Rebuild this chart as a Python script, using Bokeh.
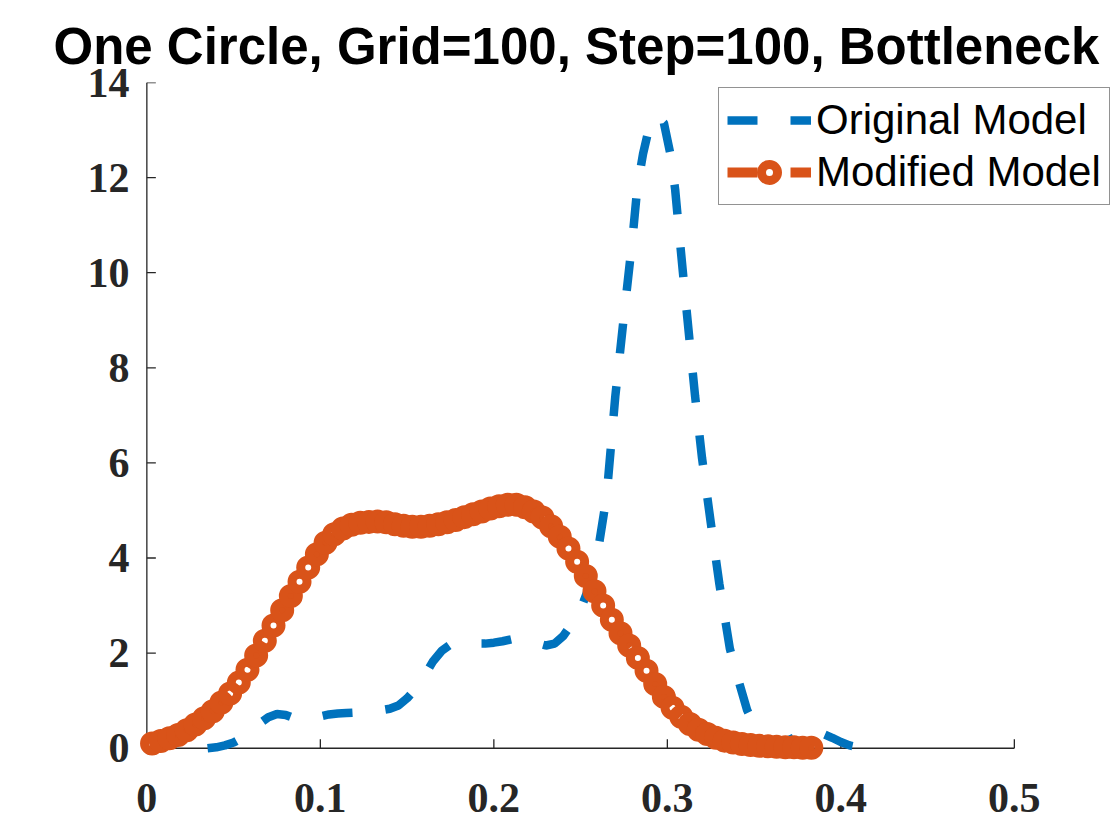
from bokeh.plotting import figure
from bokeh.models import Legend, LegendItem, FixedTicker, Range1d
from bokeh.embed import file_html
from bokeh.resources import INLINE

title_text = "One Circle, Grid=100, Step=100, Bottleneck"
x_ticks = [0, 0.1, 0.2, 0.3, 0.4, 0.5]
x_tick_labels = ["0", "0.1", "0.2", "0.3", "0.4", "0.5"]
y_ticks = [0, 2, 4, 6, 8, 10, 12, 14]
y_tick_labels = ["0", "2", "4", "6", "8", "10", "12", "14"]

series_names = ["Original Model", "Modified Model"]

orig_x = [0.035, 0.040, 0.045, 0.050, 0.055, 0.060, 0.065, 0.070, 0.075, 0.080,
          0.085, 0.090, 0.095, 0.100, 0.105, 0.110, 0.115, 0.120, 0.125, 0.130,
          0.135, 0.140, 0.145, 0.150, 0.155, 0.160, 0.165, 0.170, 0.175, 0.180,
          0.185, 0.190, 0.195, 0.200, 0.205, 0.210, 0.215, 0.220, 0.225, 0.230,
          0.235, 0.240, 0.245, 0.250, 0.255, 0.260, 0.265, 0.270, 0.275, 0.280,
          0.2827, 0.286, 0.290, 0.294, 0.298, 0.302, 0.3045, 0.306, 0.3095, 0.313,
          0.316, 0.320, 0.325, 0.330, 0.336, 0.340, 0.346, 0.350, 0.355, 0.360,
          0.365, 0.370, 0.375, 0.380, 0.385, 0.390, 0.395, 0.400, 0.405, 0.410,
          0.415]
orig_y = [0.00, 0.02, 0.06, 0.12, 0.22, 0.36, 0.52, 0.65, 0.72, 0.70,
          0.63, 0.60, 0.62, 0.67, 0.71, 0.73, 0.74, 0.75, 0.76, 0.78,
          0.80, 0.83, 0.90, 1.05, 1.25, 1.52, 1.83, 2.05, 2.18, 2.22,
          2.21, 2.20, 2.20, 2.22, 2.25, 2.29, 2.31, 2.28, 2.21, 2.16,
          2.20, 2.36, 2.62, 2.92, 3.40, 4.15, 5.30, 7.40, 9.10, 10.75,
          11.80, 12.50, 13.13, 13.30, 13.15, 12.45, 11.75, 11.15, 9.80, 8.50,
          7.40, 6.10, 4.75, 3.45, 2.10, 1.55, 0.80, 0.50, 0.22, 0.10,
          0.10, 0.17, 0.26, 0.34, 0.36, 0.30, 0.22, 0.13, 0.06, 0.02,
          0.00]

mod_x = [0.003, 0.008, 0.013, 0.018, 0.023, 0.028, 0.033, 0.038, 0.043, 0.048,
         0.053, 0.058, 0.063, 0.068, 0.073, 0.078, 0.083, 0.088, 0.093, 0.098,
         0.103, 0.108, 0.113, 0.118, 0.123, 0.128, 0.133, 0.138, 0.143, 0.148,
         0.153, 0.158, 0.163, 0.168, 0.173, 0.178, 0.183, 0.188, 0.193, 0.198,
         0.203, 0.208, 0.213, 0.218, 0.223, 0.228, 0.233, 0.238, 0.243, 0.248,
         0.253, 0.258, 0.263, 0.268, 0.273, 0.278, 0.283, 0.288, 0.293, 0.298,
         0.303, 0.308, 0.313, 0.318, 0.323, 0.328, 0.333, 0.338, 0.343, 0.348,
         0.353, 0.358, 0.363, 0.368, 0.373, 0.378, 0.383]
mod_y = [0.10, 0.15, 0.21, 0.28, 0.38, 0.50, 0.63, 0.78, 0.96, 1.15,
         1.38, 1.65, 1.95, 2.26, 2.58, 2.90, 3.20, 3.50, 3.80, 4.08,
         4.32, 4.50, 4.62, 4.70, 4.74, 4.76, 4.77, 4.75, 4.71, 4.68,
         4.66, 4.66, 4.68, 4.71, 4.75, 4.80, 4.86, 4.92, 4.98, 5.04,
         5.09, 5.12, 5.12, 5.07, 4.98, 4.85, 4.67, 4.45, 4.20, 3.92,
         3.62, 3.30, 3.00, 2.70, 2.42, 2.16, 1.90, 1.63, 1.35, 1.08,
         0.85, 0.66, 0.51, 0.39, 0.30, 0.22, 0.16, 0.12, 0.09, 0.07,
         0.05, 0.04, 0.03, 0.02, 0.02, 0.01, 0.01]

BLUE = "#0072BD"
ORANGE = "#D95319"
AX = "#262626"

W, H = 1112, 832
ML, MT = 129, 82
FH = 680
FW = W - ML
PX_PER_X = 1735.0
X0 = -0.01
X1 = X0 + FW / PX_PER_X
Y0, Y1 = -0.3, 14.0

p = figure(width=W, height=H, x_range=Range1d(X0, X1), y_range=Range1d(Y0, Y1),
           output_backend="svg", toolbar_location=None,
           min_border_left=ML, min_border_right=0,
           min_border_top=MT, min_border_bottom=H - MT - FH)
p.outline_line_color = None
p.xgrid.visible = False
p.ygrid.visible = False
p.background_fill_color = "white"

p.title.text = title_text
p.title.text_font = "Liberation Sans"
p.title.text_font_style = "bold"
p.title.text_font_size = "51px"
p.title.align = "left"
p.title.offset = -76
p.title.text_color = "black"
p.title.standoff = 16

for ax, ticks, labels in ((p.xaxis, x_ticks, x_tick_labels), (p.yaxis, y_ticks, y_tick_labels)):
    ax.ticker = FixedTicker(ticks=ticks)
    ax.major_label_overrides = {t: l for t, l in zip(ticks, labels)}
    ax.axis_line_color = None
    ax.major_tick_line_color = None
    ax.minor_tick_line_color = None
    ax.major_tick_in = 0
    ax.major_tick_out = 0
    ax.major_label_text_font = "Liberation Serif"
    ax.major_label_text_font_style = "bold"
    ax.major_label_text_font_size = "42px"
    ax.major_label_text_color = AX
p.xaxis.major_label_standoff = 21
p.yaxis.major_label_standoff = 0

# axis lines (box off) and inward ticks, like the original
p.segment(x0=[0, 0], y0=[0, 0], x1=[x_ticks[-1], 0], y1=[0, y_ticks[-1]],
          line_color=AX, line_width=1.3)
tick_dy = 9 * (Y1 - Y0) / FH
tick_dx = 9 / PX_PER_X
p.segment(x0=x_ticks, y0=[0] * len(x_ticks), x1=x_ticks, y1=[tick_dy] * len(x_ticks),
          line_color=AX, line_width=1.3)
p.segment(x0=[0] * len(y_ticks), y0=y_ticks, x1=[tick_dx] * len(y_ticks), y1=y_ticks,
          line_color=AX, line_width=1.3)

blue_r = p.line(orig_x, orig_y, line_color=BLUE, line_width=8.5, line_dash="30 33")

o_line = p.line(mod_x, mod_y, line_color=ORANGE, line_width=10, line_dash="30 33")
o_ring = p.scatter(mod_x, mod_y, marker="circle", size=15, fill_color=None,
                   line_color=ORANGE, line_width=9)

legend = Legend(items=[LegendItem(label=series_names[0], renderers=[blue_r]),
                       LegendItem(label=series_names[1], renderers=[o_line, o_ring])],
                location=(589, 557),
                label_text_font="Liberation Sans", label_text_font_size="42px",
                label_text_color="black",
                glyph_width=84, glyph_height=40, label_standoff=5,
                padding=8, spacing=4, margin=0,
                border_line_color=AX, border_line_width=1.2,
                background_fill_color="white", background_fill_alpha=1.0)
p.add_layout(legend)

open("out.html", "w").write(file_html(p, INLINE))
